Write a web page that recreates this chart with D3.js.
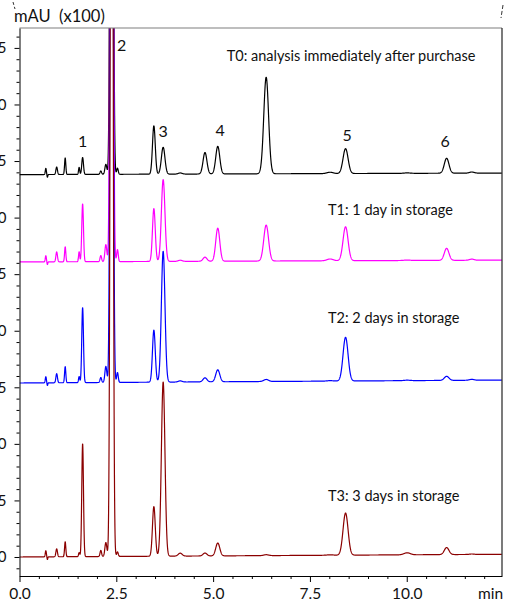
<!DOCTYPE html>
<html>
<head>
<meta charset="utf-8">
<script src="https://cdn.jsdelivr.net/npm/d3@7"></script>
<style>
  body { margin: 0; background: #fff; }
  text { font-family: Lato, "Open Sans", sans-serif; fill: #111; }
</style>
</head>
<body>
<div id="plot"></div>
<script>
// retention times (min) of the peaks seen in the chromatograms
const peakTimes  = [0.68, 0.72, 0.96, 1.18, 1.54, 1.63, 2.10, 2.23, 2.38, 2.53, 3.47, 3.71, 4.15, 4.79, 5.12, 6.37, 8.02, 8.42, 10.01, 11.03, 11.68];
const peakWidths = [0.014, 0.01, 0.02, 0.016, 0.015, 0.022, 0.02, 0.025, 0.031, 0.02, 0.036, 0.046, 0.05, 0.05, 0.052, 0.062, 0.08, 0.065, 0.08, 0.06, 0.06];

// peak heights above baseline (mAU x100), one list per sample
const heightsT0 = [0.27, -0.12, 0.33, 0.73, 0.31, 0.75, 0.15, 0.44, 52, 0.27, 2.14, 1.19, 0.05, 0.95, 1.22, 4.27, 0.06, 1.10, 0.02, 0.66, 0.05];
const heightsT1 = [0.27, -0.12, 0.44, 0.66, 0.44, 2.56, 0.27, 0.75, 52, 0.53, 2.34, 3.62, 0.05, 0.18, 1.46, 1.59, 0.08, 1.50, 0.02, 0.53, 0.05];
const heightsT2 = [0.27, -0.12, 0.40, 0.71, 0.27, 3.32, 0.22, 0.71, 52, 0.44, 2.30, 5.79, 0.05, 0.18, 0.53, 0.09, 0.02, 1.93, 0.02, 0.18, 0.04];
const heightsT3 = [0.27, -0.12, 0.35, 0.66, 0.18, 5.00, 0.27, 0.62, 52, 0.20, 2.20, 7.70, 0.13, 0.13, 0.57, 0.04, 0.02, 1.86, 0.09, 0.31, 0.02];

// vertical offset of each trace and baseline drift at the end of the run
const sampleNames = ["T0", "T1", "T2", "T3"];
const baselines   = [16.9, 13.04, 7.69, 0];
const drifts      = [0.07, 0.08, 0.13, 0.12];
const colors      = ["#000000", "#ff00ff", "#0000ff", "#8b0000"];
const captions    = ["T0: analysis immediately after purchase", "T1: 1 day in storage", "T2: 2 days in storage", "T3: 3 days in storage"];

// numbered peak labels
const labelNames = ["1", "2", "3", "4", "5", "6"];
const labelTimes = [1.63, 2.64, 3.71, 5.18, 8.46, 10.99];
const labelVals  = [18.13, 22.37, 18.57, 18.6, 18.37, 18.13];

const xTicks = [0, 2.5, 5, 7.5, 10];
const yTicks = [0, 2.5, 5, 7.5, 10, 12.5, 15, 17.5, 20, 22.5];

const W = 507, H = 602;
const svg = d3.select("#plot").append("svg")
  .attr("width", W).attr("height", H);

const x = d3.scaleLinear().domain([0, 12.46]).range([19.5, 502]);
const y = d3.scaleLinear().domain([-0.84, 23.38]).range([576, 28]);

svg.append("clipPath").attr("id", "clip")
  .append("rect")
  .attr("x", x.range()[0]).attr("y", y.range()[1])
  .attr("width", x.range()[1] - x.range()[0])
  .attr("height", y.range()[0] - y.range()[1]);

// build a trace from the peak list
function trace(heights, base, drift) {
  const tEnd = x.domain()[1];
  return d3.range(0, tEnd, 0.004).map(t => {
    let v = base + drift * t / tEnd;
    heights.forEach((h, i) => {
      const d = (t - peakTimes[i]) / peakWidths[i];
      v += h * Math.exp(-0.5 * d * d);
    });
    return [t, v];
  });
}

const allHeights = [heightsT0, heightsT1, heightsT2, heightsT3];
const line = d3.line().x(d => x(d[0])).y(d => y(d[1]));

const traces = svg.append("g").attr("clip-path", "url(#clip)");
sampleNames.forEach((name, i) => {
  traces.append("path")
    .datum(trace(allHeights[i], baselines[i], drifts[i]))
    .attr("fill", "none")
    .attr("stroke", colors[i])
    .attr("stroke-width", 1.2)
    .attr("stroke-linejoin", "round")
    .attr("d", line);
});

// frame
svg.append("line").attr("x1", x.range()[0]).attr("x2", x.range()[1])
  .attr("y1", 28).attr("y2", 28).attr("stroke", "#7f7f7f").attr("stroke-width", 1.2);
svg.append("line").attr("x1", 502).attr("x2", 502)
  .attr("y1", 28).attr("y2", 576).attr("stroke", "#222").attr("stroke-width", 1.2);

// y axis
const yMinor = d3.range(-0.5, 23.01, 0.5).filter(v => yTicks.indexOf(v) < 0);
svg.append("g")
  .attr("transform", `translate(${x.range()[0]},0)`)
  .call(d3.axisLeft(y).tickValues(yMinor).tickSize(3).tickSizeOuter(0).tickFormat(""))
  .call(g => g.select(".domain").remove());
svg.append("g")
  .attr("transform", `translate(${x.range()[0]},0)`)
  .call(d3.axisLeft(y).tickValues(yTicks).tickSize(5).tickSizeOuter(0).tickPadding(8).tickFormat(d3.format(".1f")))
  .call(g => g.selectAll("text").style("font-size", "15px").style("font-family", "Lato, sans-serif"));

// x axis
const xMinor = d3.range(0.5, 12.01, 0.5).filter(v => xTicks.indexOf(v) < 0);
svg.append("g")
  .attr("transform", `translate(0,${y.range()[0]})`)
  .call(d3.axisBottom(x).tickValues(xMinor).tickSize(3).tickSizeOuter(0).tickFormat(""))
  .call(g => g.select(".domain").remove());
svg.append("g")
  .attr("transform", `translate(0,${y.range()[0]})`)
  .call(d3.axisBottom(x).tickValues(xTicks).tickSize(6).tickSizeOuter(0).tickPadding(6).tickFormat(d3.format(".1f")))
  .call(g => g.selectAll("text").style("font-size", "15.5px").style("font-family", "Lato, sans-serif"));

svg.append("text").attr("x", 478).attr("y", 599)
  .style("font-size", "15.5px").text("min");

svg.append("text").attr("x", 14).attr("y", 22)
  .style("font-size", "16.5px").style("white-space", "pre").text("mAU  (x100)");

// peak numbers
svg.selectAll(".pk").data(labelNames).join("text")
  .attr("class", "pk")
  .attr("x", (d, i) => x(labelTimes[i]))
  .attr("y", (d, i) => y(labelVals[i]))
  .attr("text-anchor", "middle")
  .style("font-size", "16px")
  .text(d => d);

// sample captions
const capX = [226.7, 328, 328, 328];
const capY = [61, 214.5, 322.5, 500.5];
svg.selectAll(".cap").data(captions).join("text")
  .attr("class", "cap")
  .attr("x", (d, i) => capX[i])
  .attr("y", (d, i) => capY[i])
  .style("font-size", "14.5px")
  .text(d => d);

// small crop marks at the top corners
svg.append("line").attr("x1", 13).attr("y1", 2).attr("x2", 15).attr("y2", 9)
  .attr("stroke", "#333").attr("stroke-dasharray", "3,2");
svg.append("line").attr("x1", 503).attr("y1", 5).attr("x2", 501).attr("y2", 18)
  .attr("stroke", "#333").attr("stroke-dasharray", "4,2");
</script>
</body>
</html>
